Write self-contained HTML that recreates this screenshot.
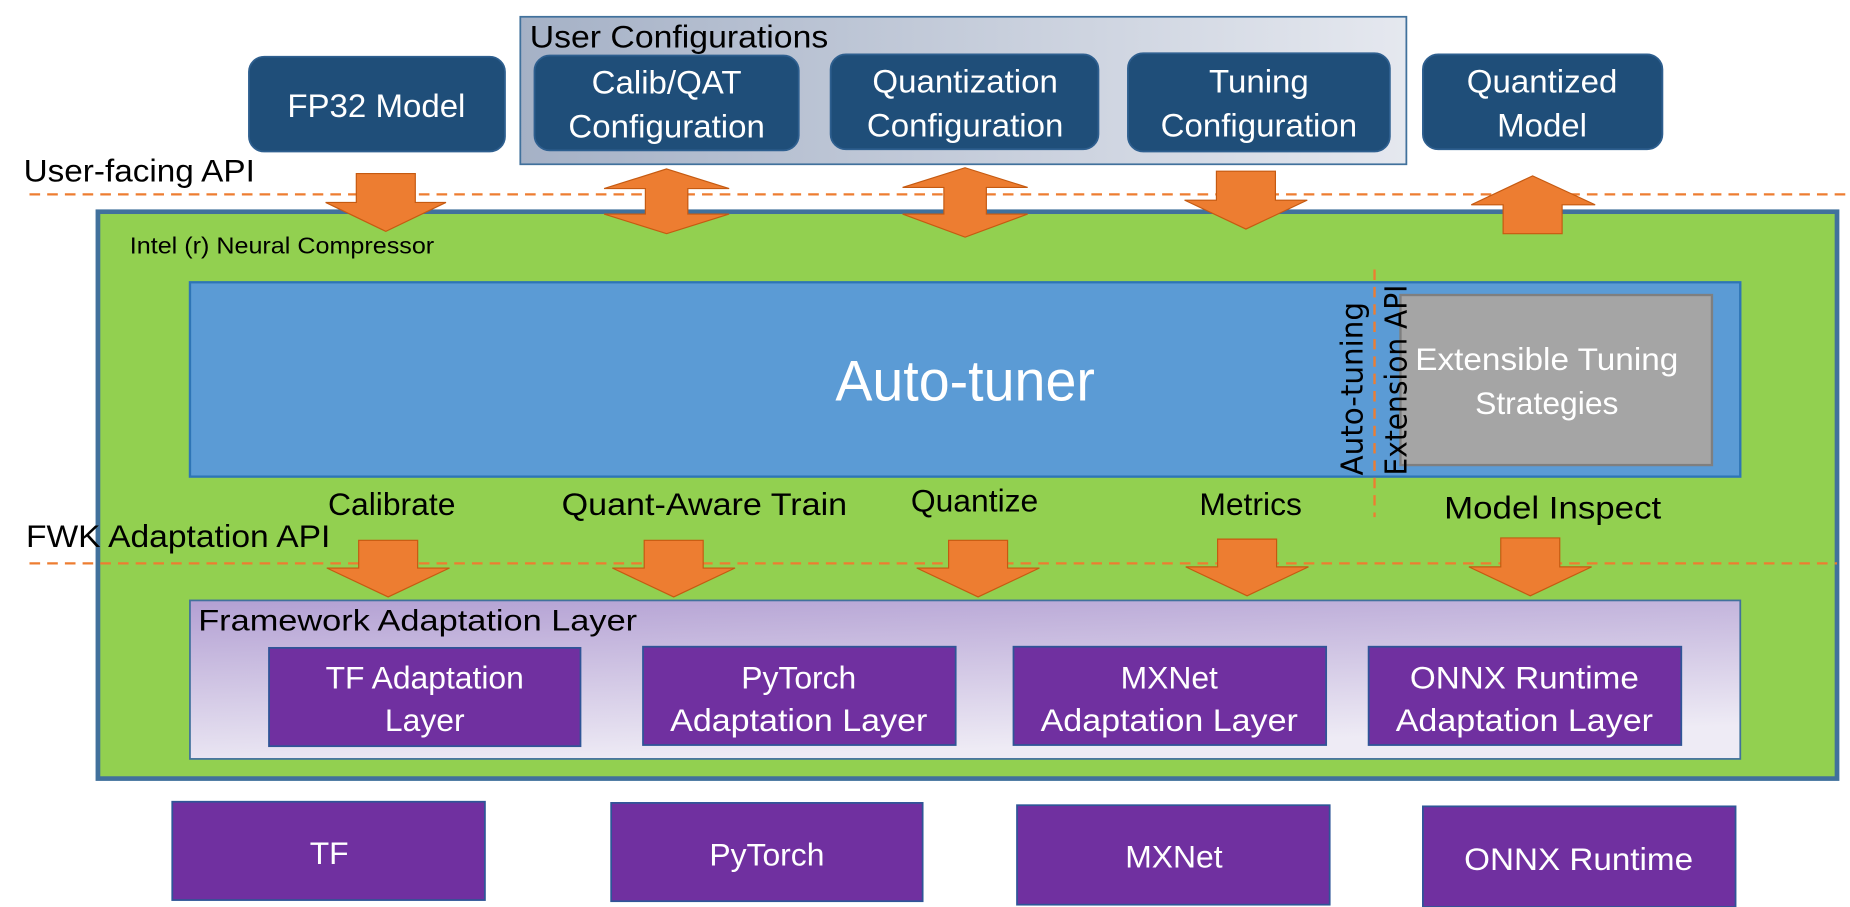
<!DOCTYPE html>
<html><head><meta charset="utf-8"><style>
html,body{margin:0;padding:0;background:#fff;overflow:hidden}
svg{display:block}
text{font-family:"Liberation Sans",sans-serif}
</style></head><body>
<svg width="1850" height="907" viewBox="0 0 1568 784" preserveAspectRatio="none" xmlns="http://www.w3.org/2000/svg">
<defs>
<linearGradient id="uc" x1="0" x2="1" y1="0" y2="0"><stop offset="0" stop-color="#a5b1c6"/><stop offset="1" stop-color="#e5e8ef"/></linearGradient>
<linearGradient id="fal" x1="0" x2="0.3" y1="0" y2="1"><stop offset="0" stop-color="#b3a0d3"/><stop offset="1" stop-color="#eeebf5"/></linearGradient>
</defs>
<rect x="441" y="14.5" width="751" height="127.5" fill="url(#uc)" stroke="#41719c" stroke-width="1.5"/>
<text x="449" y="41" font-size="27" fill="#000" textLength="253" lengthAdjust="spacingAndGlyphs">User Configurations</text>
<g fill="#1f4e79" stroke="#2e5f8f" stroke-width="1.5">
<rect x="211" y="49" width="217" height="82" rx="13"/>
<rect x="453" y="48" width="224" height="82" rx="13"/>
<rect x="704" y="47" width="227" height="82" rx="13"/>
<rect x="956" y="46" width="222" height="85" rx="13"/>
<rect x="1206" y="47" width="203" height="82" rx="13"/>
</g>
<g fill="#fff" font-size="28" text-anchor="middle">
<text x="319" y="101">FP32 Model</text>
<text x="565" y="81">Calib/QAT</text><text x="565" y="119">Configuration</text>
<text x="818" y="80">Quantization</text><text x="818" y="118">Configuration</text>
<text x="1067" y="80">Tuning</text><text x="1067" y="118">Configuration</text>
<text x="1307" y="80">Quantized</text><text x="1307" y="118">Model</text>
</g>
<text x="20" y="157" font-size="27" textLength="196" lengthAdjust="spacingAndGlyphs">User-facing API</text>
<line x1="25" y1="168" x2="1568" y2="168" stroke="#ed7d31" stroke-width="2" stroke-dasharray="9,6"/>
<rect x="83" y="183" width="1474" height="490" fill="#92d050" stroke="#41719c" stroke-width="4"/>
<text x="110" y="219" font-size="20" textLength="258" lengthAdjust="spacingAndGlyphs">Intel (r) Neural Compressor</text>
<g fill="#ed7d31" stroke="#c55a11" stroke-width="1">
<polygon points="302,150 352,150 352,175 378,175 327,200 276,175 302,175"/>
<polygon points="565,146 618,163 583,163 583,185 618,185 565,202 512,185 547,185 547,163 512,163"/>
<polygon points="818,145 871,162 836,162 836,185 871,185 818,205 765,185 800,185 800,162 765,162"/>
<polygon points="1031,148 1081,148 1081,173 1108,173 1056,198 1004,173 1031,173"/>
<polygon points="1299,152 1352,177 1324,177 1324,202 1274,202 1274,177 1247,177"/>
</g>
<rect x="161" y="244" width="1314" height="168" fill="#5b9bd5" stroke="#2e75b6" stroke-width="2"/>
<text x="818" y="346" font-size="50" fill="#fff" text-anchor="middle" textLength="220" lengthAdjust="spacingAndGlyphs">Auto-tuner</text>
<rect x="1187" y="255" width="264" height="147" fill="#a5a5a5" stroke="#7f7f7f" stroke-width="2"/>
<text x="1311" y="320" font-size="27" fill="#fff" text-anchor="middle" textLength="223" lengthAdjust="spacingAndGlyphs">Extensible Tuning</text>
<text x="1311" y="358" font-size="27" fill="#fff" text-anchor="middle">Strategies</text>
<text transform="translate(1155,411) rotate(-90)" font-size="26" style="font-family:'DejaVu Sans',sans-serif" textLength="150" lengthAdjust="spacingAndGlyphs">Auto-tuning</text>
<text transform="translate(1192,411) rotate(-90)" font-size="26" style="font-family:'DejaVu Sans',sans-serif" textLength="165" lengthAdjust="spacingAndGlyphs">Extension API</text>
<line x1="1165" y1="233" x2="1165" y2="447" stroke="#ed7d31" stroke-width="2" stroke-dasharray="9,6"/>
<g font-size="27" text-anchor="middle">
<text x="332" y="445">Calibrate</text>
<text x="597" y="445" textLength="242" lengthAdjust="spacingAndGlyphs">Quant-Aware Train</text>
<text x="826" y="442">Quantize</text>
<text x="1060" y="445">Metrics</text>
<text x="1316" y="448" textLength="184" lengthAdjust="spacingAndGlyphs">Model Inspect</text>
</g>
<text x="22" y="473" font-size="27" textLength="258" lengthAdjust="spacingAndGlyphs">FWK Adaptation API</text>
<line x1="25" y1="487" x2="1557" y2="487" stroke="#ed7d31" stroke-width="2" stroke-dasharray="9,6"/>
<g fill="#ed7d31" stroke="#c55a11" stroke-width="1">
<polygon points="304,467 354,467 354,491 381,491 329,516 277,491 304,491"/>
<polygon points="546,467 596,467 596,491 623,491 571,516 519,491 546,491"/>
<polygon points="804,467 854,467 854,491 881,491 829,516 777,491 804,491"/>
<polygon points="1032,466 1082,466 1082,490 1109,490 1057,515 1005,490 1032,490"/>
<polygon points="1272,465 1322,465 1322,490 1349,490 1297,515 1245,490 1272,490"/>
</g>
<rect x="161" y="519" width="1314" height="137" fill="url(#fal)" stroke="#41719c" stroke-width="1.5"/>
<text x="168" y="545" font-size="26" textLength="372" lengthAdjust="spacingAndGlyphs">Framework Adaptation Layer</text>
<g fill="#7030a0" stroke="#2f5597" stroke-width="1.5">
<rect x="228" y="560" width="264" height="85"/>
<rect x="545" y="559" width="265" height="85"/>
<rect x="859" y="559" width="265" height="85"/>
<rect x="1160" y="559" width="265" height="85"/>
<rect x="146" y="693" width="265" height="85"/>
<rect x="518" y="694" width="264" height="85"/>
<rect x="862" y="696" width="265" height="86"/>
<rect x="1206" y="697" width="265" height="87"/>
</g>
<g fill="#fff" font-size="27" text-anchor="middle">
<text x="360" y="595">TF Adaptation</text><text x="360" y="632">Layer</text>
<text x="677" y="595">PyTorch</text><text x="677" y="632" textLength="218" lengthAdjust="spacingAndGlyphs">Adaptation Layer</text>
<text x="991" y="595">MXNet</text><text x="991" y="632" textLength="218" lengthAdjust="spacingAndGlyphs">Adaptation Layer</text>
<text x="1292" y="595" textLength="194" lengthAdjust="spacingAndGlyphs">ONNX Runtime</text><text x="1292" y="632" textLength="218" lengthAdjust="spacingAndGlyphs">Adaptation Layer</text>
<text x="279" y="747">TF</text>
<text x="650" y="748">PyTorch</text>
<text x="995" y="750">MXNet</text>
<text x="1338" y="752" textLength="194" lengthAdjust="spacingAndGlyphs">ONNX Runtime</text>
</g>
</svg>
</body></html>
